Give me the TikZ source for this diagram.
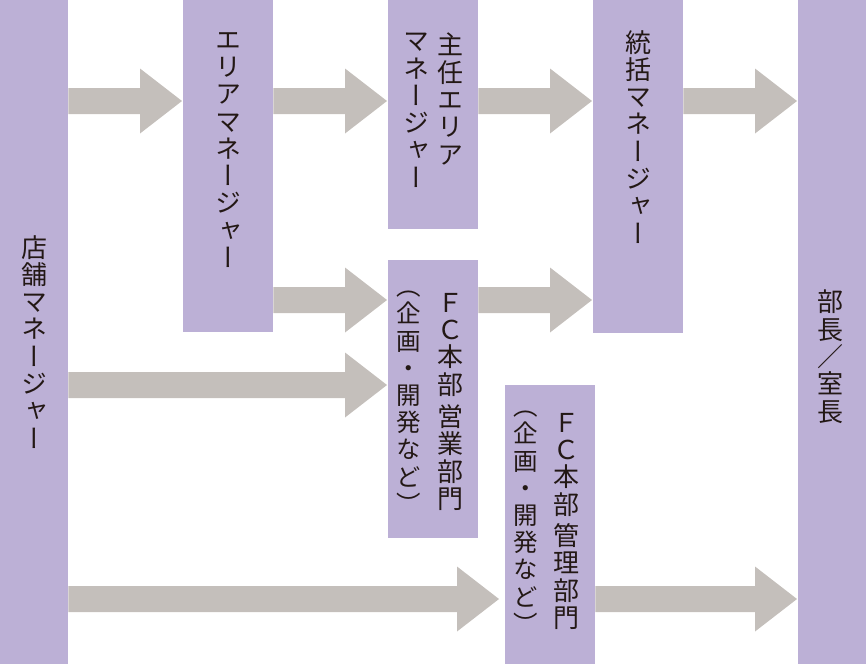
\documentclass[tikz,border=0pt]{standalone}
\usepackage{fontspec}
\usetikzlibrary{calc}
\newfontfamily\jpv[RawFeature=+vert]{Noto Sans CJK JP}
\newfontfamily\jph{Noto Sans CJK JP}
\definecolor{boxpurple}{RGB}{188,176,214}
\definecolor{arrowgray}{RGB}{196,191,187}
\definecolor{txt}{RGB}{35,24,21}
\setlength\lineskiplimit{-50pt}
\tikzset{
  box/.style={fill=boxpurple, inner sep=0pt, anchor=north west, draw=none},
  vbig/.style={inner sep=0pt, anchor=north, align=center, text=txt,
    font=\jpv\fontsize{26}{27.3}\selectfont},
  vsmall/.style={inner sep=0pt, anchor=north, align=center, text=txt,
    font=\jpv\fontsize{24.5}{27.2}\selectfont},
  fat/.style={fill=arrowgray}
}
\newcommand\fatarrow[4]{%
  \path (#1.east |- 0,#3) coordinate (s) (#2.west |- 0,#3) coordinate (t0);
  \path ($(t0)+(-#4,0)$) coordinate (t);
  \fill[fat] ($(s)+(0,-13)$) -- ($(t)+(-42,-13)$) -- ($(t)+(-42,-32.5)$) -- (t)
    -- ($(t)+(-42,32.5)$) -- ($(t)+(-42,13)$) -- ($(s)+(0,13)$) -- cycle;}
\begin{document}
\begin{tikzpicture}[x=1pt,y=-1pt]
\useasboundingbox (0,0) rectangle (866,664);
% boxes
\node[box, minimum width=68pt, minimum height=664pt] (A) at (0,0) {};
\node[box, minimum width=90pt, minimum height=332pt] (B) at (183,0) {};
\node[box, minimum width=90pt, minimum height=229pt] (C) at (388,0) {};
\node[box, minimum width=90pt, minimum height=278pt] (D) at (388,260) {};
\node[box, minimum width=90pt, minimum height=333pt] (E) at (593,0) {};
\node[box, minimum width=90pt, minimum height=279pt] (F) at (505,385) {};
\node[box, minimum width=68pt, minimum height=664pt] (G) at (798,0) {};
% arrows
\fatarrow{A}{B}{101}{1}
\fatarrow{B}{C}{101}{1}
\fatarrow{C}{E}{101}{1}
\fatarrow{E}{G}{101}{1}
\fatarrow{B}{D}{300}{1}
\fatarrow{D}{E}{300}{1}
\fatarrow{A}{D}{385}{1}
\fatarrow{A}{F}{599}{6}
\fatarrow{F}{G}{599}{1}
% texts
\node[vbig] (At) at (34,235) {店\\舗\\マ\\ネ\\ー\\ジ\\ャ\\ー};
\node[vbig] (Bt) at (228,32) {エ\\リ\\ア\\マ\\ネ\\ー\\ジ\\ャ\\ー};
\node[vbig] (Ct1) at (450.5,33) {主\\任\\エ\\リ\\ア};
\node[vbig] (Ct2) at (416,33) {マ\\ネ\\ー\\ジ\\ャ\\ー};
\node[vbig] (Dt1) at (450.5,293) {Ｆ\\Ｃ\\本\\部\\[5pt]営\\業\\部\\門};
\node[vsmall] (Dt2) at (409,291) {（\\企\\画\\・\\開\\発\\な\\ど\\）};
\node[vbig] (Et) at (638,30) {統\\括\\マ\\ネ\\ー\\ジ\\ャ\\ー};
\node[vbig] (Ft1) at (566,413) {Ｆ\\Ｃ\\本\\部\\[4pt]管\\理\\部\\門};
\node[vsmall] (Ft2) at (526,411) {（\\企\\画\\・\\開\\発\\な\\ど\\）};
\node[vbig] (Gt) at (830,290) {部\\長\\{\jph ／}\\室\\長};
\end{tikzpicture}
\end{document}
